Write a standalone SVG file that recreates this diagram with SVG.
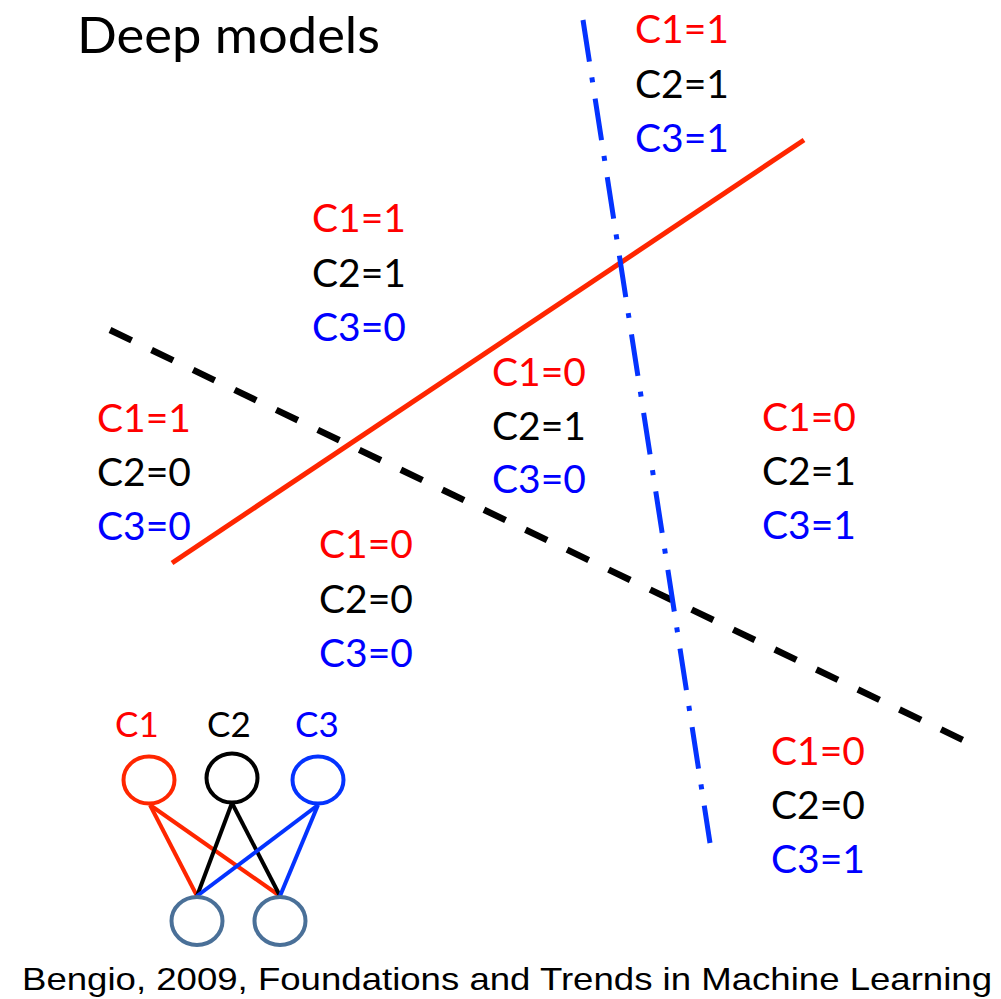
<svg xmlns="http://www.w3.org/2000/svg" width="1001" height="999" viewBox="0 0 1001 999">
<style>
text{font-family:Lato,"Open Sans","Liberation Sans",sans-serif}
.lbl{font-size:39px}
.r{fill:#FF0000}.k{fill:#000000}.b{fill:#0000FF}
.net{font-size:35px}
.ln{fill:none}
</style>
<rect width="1001" height="999" fill="#ffffff"/>
<text x="77" y="53" font-size="50" textLength="303" lengthAdjust="spacingAndGlyphs" fill="#000">Deep models</text>

<g id="boundaries">
<line id="line-c1" x1="172" y1="563" x2="804" y2="140" stroke="#FF2600" stroke-width="5"/>
<line id="line-c2" x1="110" y1="330" x2="963" y2="740" stroke="#000" stroke-width="6.5" stroke-dasharray="24 22.1"/>
<line id="line-c3" x1="583" y1="20" x2="710" y2="843" stroke="#0433FF" stroke-width="5" stroke-dasharray="42 16 5 16.5"/>
</g>

<g id="region-111">
<text class="lbl r" x="635" y="43">C1=1</text>
<text class="lbl k" x="635" y="97.5">C2=1</text>
<text class="lbl b" x="635" y="152">C3=1</text>
</g>
<g id="region-110">
<text class="lbl r" x="312" y="232">C1=1</text>
<text class="lbl k" x="312" y="286.5">C2=1</text>
<text class="lbl b" x="312" y="341">C3=0</text>
</g>
<g id="region-100">
<text class="lbl r" x="97" y="432">C1=1</text>
<text class="lbl k" x="97" y="486">C2=0</text>
<text class="lbl b" x="97" y="540">C3=0</text>
</g>
<g id="region-010">
<text class="lbl r" x="492" y="386">C1=0</text>
<text class="lbl k" x="492" y="439.5">C2=1</text>
<text class="lbl b" x="492" y="493">C3=0</text>
</g>
<g id="region-011">
<text class="lbl r" x="762" y="431">C1=0</text>
<text class="lbl k" x="762" y="485">C2=1</text>
<text class="lbl b" x="762" y="539">C3=1</text>
</g>
<g id="region-000">
<text class="lbl r" x="319" y="558">C1=0</text>
<text class="lbl k" x="319" y="612.5">C2=0</text>
<text class="lbl b" x="319" y="667">C3=0</text>
</g>
<g id="region-001">
<text class="lbl r" x="771" y="765">C1=0</text>
<text class="lbl k" x="771" y="819">C2=0</text>
<text class="lbl b" x="771" y="873">C3=1</text>
</g>

<g id="connectors" stroke-width="4">
<line x1="150" y1="805" x2="197" y2="896" stroke="#FF2600"/>
<line x1="150" y1="805" x2="280" y2="896" stroke="#FF2600"/>
<line x1="232" y1="803" x2="197" y2="896" stroke="#000"/>
<line x1="232" y1="803" x2="280" y2="896" stroke="#000"/>
<line x1="318" y1="805" x2="197" y2="896" stroke="#0433FF"/>
<line x1="318" y1="805" x2="280" y2="896" stroke="#0433FF"/>
</g>

<g id="node-c1">
<ellipse cx="149" cy="780" rx="25.5" ry="23.5" fill="none" stroke="#FF2600" stroke-width="4"/>
<text class="net r" x="115" y="737">C1</text>
</g>
<g id="node-c2">
<ellipse cx="232" cy="778" rx="25.5" ry="24.5" fill="none" stroke="#000" stroke-width="4"/>
<text class="net k" x="207" y="737">C2</text>
</g>
<g id="node-c3">
<ellipse cx="318" cy="780" rx="25.5" ry="23.5" fill="none" stroke="#0433FF" stroke-width="4"/>
<text class="net b" x="295" y="737">C3</text>
</g>
<g id="node-in1">
<ellipse cx="197" cy="921" rx="25.5" ry="24" fill="none" stroke="#4A7098" stroke-width="4"/>
</g>
<g id="node-in2">
<ellipse cx="280" cy="921" rx="25.5" ry="24" fill="none" stroke="#4A7098" stroke-width="4"/>
</g>

<text x="22" y="990" font-family="'Liberation Sans',Arial,sans-serif" style="font-family:'Liberation Sans',Arial,sans-serif" font-size="32" textLength="970" lengthAdjust="spacingAndGlyphs" fill="#000">Bengio, 2009, Foundations and Trends in Machine Learning</text>
</svg>
